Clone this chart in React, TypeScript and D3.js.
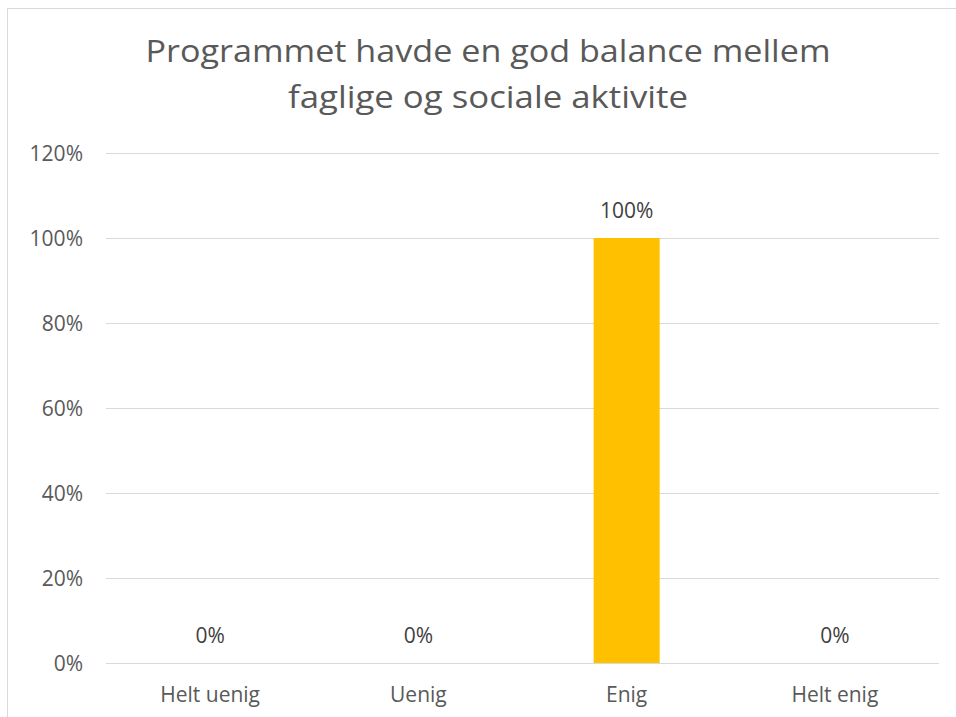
import React from "react";
import * as d3 from "d3";

const categories = ["Helt uenig", "Uenig", "Enig", "Helt enig"];
const values = [0, 0, 1, 0];
const yTicks = [0, 0.2, 0.4, 0.6, 0.8, 1.0, 1.2];
const titleLines = ["Programmet havde en god balance mellem", "faglige og sociale aktivite"];

export default function App() {
  const W = 956, H = 717;
  const left = 106, right = 939, top = 153, bottom = 663;
  const x = d3.scaleBand<string>().domain(categories).range([left, right]).paddingInner(0.683).paddingOuter(0.3415);
  const y = d3.scaleLinear().domain([0, 1.2]).range([bottom, top]);
  const fmt = d3.format(".0%");
  const font = "'Open Sans', 'Liberation Sans', Arial, sans-serif";
  const bw = 66;
  return (
    <svg width={W} height={H} style={{ position: "absolute", left: 0, top: 0, background: "#fff" }}>
      <rect x={7.5} y={8.5} width={W + 20} height={H + 20} fill="#fff" stroke="#d9d9d9" strokeWidth={1} />
      {titleLines.map((t, i) => (
        <text key={i} x={488} y={62 + i * 46} textAnchor="middle" fontFamily={font}
          fontSize={31} fill="#595959" textLength={i === 0 ? 685 : 400} lengthAdjust="spacingAndGlyphs">{t}</text>
      ))}
      {yTicks.map((t) => (
        <g key={t}>
          <line x1={left} x2={right} y1={Math.round(y(t)) + 0.5} y2={Math.round(y(t)) + 0.5} stroke="#d9d9d9" strokeWidth={1} />
          <text x={83} y={y(t) + 7.5} textAnchor="end" fontFamily={font} fontSize={21} fill="#595959">{fmt(t)}</text>
        </g>
      ))}
      {categories.map((c, i) => {
        const cx = (x(c) as number) + x.bandwidth() / 2;
        return (
          <g key={c}>
            {values[i] > 0 && (
              <rect x={cx - bw / 2} y={y(values[i])} width={bw} height={y(0) - y(values[i])} fill="#ffc000" />
            )}
            <text x={cx} y={y(values[i]) - 20} textAnchor="middle" fontFamily={font} fontSize={21} fill="#404040">{fmt(values[i])}</text>
            <text x={cx} y={702} textAnchor="middle" fontFamily={font} fontSize={21} fill="#595959">{c}</text>
          </g>
        );
      })}
    </svg>
  );
}
